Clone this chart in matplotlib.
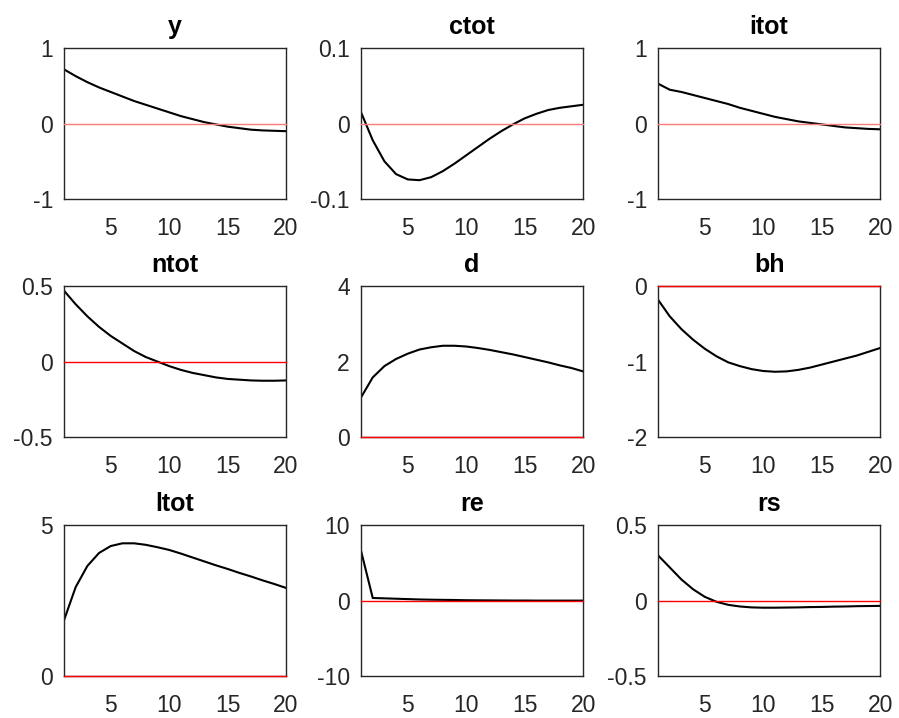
import numpy as np
import matplotlib
matplotlib.use("Agg")
import matplotlib.pyplot as plt

plt.rcParams["font.family"] = ["Liberation Sans", "DejaVu Sans"]

periods = np.arange(1, 21)

titles = ["y", "ctot", "itot", "ntot", "d", "bh", "ltot", "re", "rs"]

y = [0.72, 0.63, 0.55, 0.48, 0.42, 0.36, 0.30, 0.25, 0.20, 0.15,
     0.10, 0.06, 0.02, -0.01, -0.04, -0.06, -0.08, -0.09, -0.095, -0.10]
ctot = [0.015, -0.022, -0.050, -0.067, -0.074, -0.075, -0.071, -0.063, -0.053, -0.042,
        -0.031, -0.020, -0.010, -0.001, 0.007, 0.013, 0.018, 0.021, 0.023, 0.025]
itot = [0.53, 0.45, 0.42, 0.38, 0.34, 0.30, 0.26, 0.21, 0.17, 0.13,
        0.09, 0.06, 0.03, 0.01, -0.01, -0.03, -0.05, -0.06, -0.07, -0.075]
ntot = [0.47, 0.38, 0.30, 0.23, 0.17, 0.12, 0.07, 0.03, 0.00, -0.03,
        -0.055, -0.075, -0.09, -0.105, -0.115, -0.12, -0.125, -0.127, -0.127, -0.125]
d = [1.05, 1.58, 1.88, 2.07, 2.21, 2.32, 2.38, 2.42, 2.42, 2.40,
     2.36, 2.31, 2.25, 2.19, 2.12, 2.05, 1.98, 1.90, 1.83, 1.74]
bh = [-0.18, -0.40, -0.57, -0.71, -0.83, -0.93, -1.01, -1.06, -1.10, -1.125,
      -1.135, -1.13, -1.11, -1.08, -1.04, -1.00, -0.96, -0.92, -0.87, -0.82]
ltot = [1.85, 2.95, 3.65, 4.08, 4.31, 4.40, 4.40, 4.35, 4.27, 4.18,
        4.06, 3.93, 3.80, 3.67, 3.55, 3.42, 3.30, 3.17, 3.05, 2.92]
re = [6.6, 0.35, 0.30, 0.25, 0.20, 0.15, 0.12, 0.10, 0.08, 0.05,
      0.04, 0.03, 0.02, 0.01, 0.01, 0.0, 0.0, 0.0, 0.0, 0.0]
rs = [0.30, 0.22, 0.14, 0.075, 0.025, -0.008, -0.028, -0.039, -0.045, -0.047,
      -0.047, -0.046, -0.045, -0.043, -0.042, -0.040, -0.039, -0.037, -0.036, -0.035]

series = [y, ctot, itot, ntot, d, bh, ltot, re, rs]
ylims = [(-1, 1), (-0.1, 0.1), (-1, 1), (-0.5, 0.5), (0, 4), (-2, 0),
         (0, 5), (-10, 10), (-0.5, 0.5)]
ytick_sets = [[-1, 0, 1], [-0.1, 0, 0.1], [-1, 0, 1], [-0.5, 0, 0.5], [0, 2, 4],
              [-2, -1, 0], [0, 5], [-10, 0, 10], [-0.5, 0, 0.5]]

fig = plt.figure(figsize=(8.99, 7.18), dpi=100)

lefts = [0.0712, 0.4016, 0.732]
bottoms = [0.7228, 0.3914, 0.0585]
w, h = 0.247, 0.21
grey = "#262626"

for i, (name, vals) in enumerate(zip(titles, series)):
    row, col = divmod(i, 3)
    ax = fig.add_axes([lefts[col], bottoms[row], w, h])
    zero_col = "#ff7a7a" if row == 0 else "red"
    ax.plot(periods, vals, color="black", linewidth=1.5, zorder=2)
    ax.plot(periods, np.zeros_like(periods), color=zero_col, linewidth=1.0,
            clip_on=False, zorder=3)
    ax.set_xlim(1, 20)
    ax.set_ylim(*ylims[i])
    ax.set_xticks([5, 10, 15, 20])
    ax.set_yticks(ytick_sets[i])
    ax.set_yticklabels([f"{t:g}" for t in ytick_sets[i]])
    ax.tick_params(length=0, labelsize=16.5, colors=grey)
    ax.tick_params(axis="x", pad=13)
    ax.tick_params(axis="y", pad=8)
    for sp in ax.spines.values():
        sp.set_color(grey)
        sp.set_linewidth(1.0)
    ax.set_title(name, fontsize=18, fontweight="bold", pad=10)

fig.savefig("out.png", dpi=100)
